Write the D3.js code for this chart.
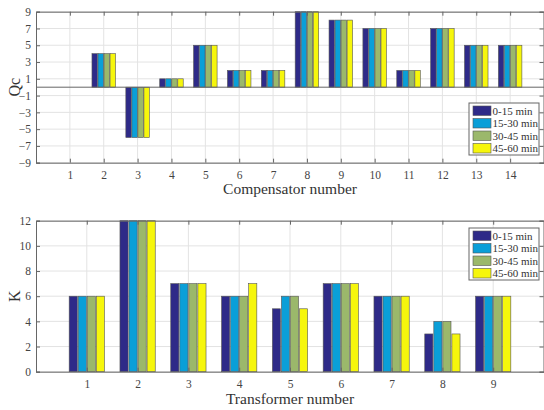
<!DOCTYPE html>
<html>
<head>
<meta charset="utf-8">
<script src="https://cdn.jsdelivr.net/npm/d3@7"></script>
<style>
  body { margin: 0; background: #fff; }
  svg { display: block; font-family: "Liberation Serif", "DejaVu Serif", serif; }
  .grid line { stroke: #e3e3e3; stroke-width: 1; }
  .axis text { fill: #444; font-size: 11.5px; font-family: "Liberation Serif", "DejaVu Serif", serif; }
  .axis path, .axis line { stroke: #666; }
</style>
</head>
<body>
<svg id="chart" width="544" height="410"></svg>
<script>
const seriesNames = ["0-15 min", "15-30 min", "30-45 min", "45-60 min"];
const seriesColors = ["#2e2a88", "#0a9fd8", "#9bb86b", "#f6f60c"];

const compensators = [1, 2, 3, 4, 5, 6, 7, 8, 9, 10, 11, 12, 13, 14];
const qcValues = [
    [0, 4, -6, 1, 5, 2, 2, 9, 8, 7, 2, 7, 5, 5],
    [0, 4, -6, 1, 5, 2, 2, 9, 8, 7, 2, 7, 5, 5],
    [0, 4, -6, 1, 5, 2, 2, 9, 8, 7, 2, 7, 5, 5],
    [0, 4, -6, 1, 5, 2, 2, 9, 8, 7, 2, 7, 5, 5]
];
const qcTicks = [-9, -7, -5, -3, -1, 1, 3, 5, 7, 9];

const transformers = [1, 2, 3, 4, 5, 6, 7, 8, 9];
const kValues = [
    [6, 12, 7, 6, 5, 7, 6, 3, 6],
    [6, 12, 7, 6, 6, 7, 6, 4, 6],
    [6, 12, 7, 6, 6, 7, 6, 4, 6],
    [6, 12, 7, 7, 5, 7, 6, 3, 6]
];
const kTicks = [0, 2, 4, 6, 8, 10, 12];

const svg = d3.select("#chart");

function drawPanel({ top, bottom, cats, values, yDomain, yTicks, yLabel, xLabel, xLabelY, legendTop }) {
    const left = 36, right = 544;
    const x = d3.scaleLinear().domain([0, cats.length + 1]).range([left, right]);
    const y = d3.scaleLinear().domain(yDomain).range([bottom, top]);
    const g = svg.append("g");

    // grid
    const grid = g.append("g").attr("class", "grid");
    grid.selectAll(".gx").data(cats).join("line")
        .attr("x1", d => x(d)).attr("x2", d => x(d))
        .attr("y1", top).attr("y2", bottom);
    grid.selectAll(".gy").data(yTicks).join("line")
        .attr("x1", left).attr("x2", right)
        .attr("y1", d => y(d)).attr("y2", d => y(d));

    // bars
    const step = x(1) - x(0);
    const slot = step * 0.178;
    const barW = slot * 0.9;
    const base = y(Math.max(0, yDomain[0]));
    values.forEach((vals, s) => {
        g.append("g").selectAll("rect").data(vals.map((v, i) => ({ v, c: cats[i] })))
            .join("rect")
            .filter(d => d.v !== 0)
            .attr("x", d => x(d.c) + (s - 2) * slot + (slot - barW) / 2)
            .attr("width", barW)
            .attr("y", d => Math.min(y(d.v), base))
            .attr("height", d => Math.abs(y(d.v) - base))
            .attr("fill", seriesColors[s])
            .attr("stroke", "#555")
            .attr("stroke-width", 0.6);
    });

    // zero line
    if (yDomain[0] < 0) {
        g.append("line").attr("x1", left).attr("x2", right)
            .attr("y1", y(0)).attr("y2", y(0))
            .attr("stroke", "#666").attr("stroke-width", 1);
    }

    // axes
    g.append("g").attr("class", "axis")
        .attr("transform", `translate(0,${bottom})`)
        .call(d3.axisBottom(x).tickValues(cats).tickSize(-4).tickPadding(8).tickFormat(d3.format("d")));
    g.append("g").attr("class", "axis")
        .attr("transform", `translate(0,${top})`)
        .call(d3.axisTop(x).tickValues(cats).tickSize(-4).tickFormat(""));
    g.append("g").attr("class", "axis")
        .attr("transform", `translate(${left},0)`)
        .call(d3.axisLeft(y).tickValues(yTicks).tickSize(-4).tickPadding(5));
    g.append("g").attr("class", "axis")
        .attr("transform", `translate(${right - 0.5},0)`)
        .call(d3.axisRight(y).tickValues(yTicks).tickSize(-4).tickFormat(""));
    g.selectAll(".axis").attr("font-family", null);

    // labels
    g.append("text")
        .attr("transform", `translate(20,${(top + bottom) / 2}) rotate(-90)`)
        .attr("text-anchor", "middle")
        .attr("font-size", 16).attr("fill", "#333")
        .text(yLabel);
    g.append("text")
        .attr("x", 290).attr("y", xLabelY)
        .attr("text-anchor", "middle")
        .attr("font-size", 15.5).attr("fill", "#333")
        .text(xLabel);

    // legend
    const lg = g.append("g").attr("transform", `translate(469,${legendTop})`);
    lg.append("rect").attr("width", 70).attr("height", 52)
        .attr("fill", "#fff").attr("stroke", "#666").attr("stroke-width", 1);
    seriesNames.forEach((name, i) => {
        lg.append("rect")
            .attr("x", 4).attr("y", 3 + i * 12.5)
            .attr("width", 18).attr("height", 9.5)
            .attr("fill", seriesColors[i]).attr("stroke", "#555").attr("stroke-width", 0.6);
        lg.append("text")
            .attr("x", 23.5).attr("y", 11.5 + i * 12.5)
            .attr("font-size", 11).attr("fill", "#333")
            .text(name);
    });
}

drawPanel({
    top: 11.7, bottom: 162.7, cats: compensators, values: qcValues,
    yDomain: [-9, 9], yTicks: qcTicks, yLabel: "Qc",
    xLabel: "Compensator number", xLabelY: 194, legendTop: 103
});

drawPanel({
    top: 220.7, bottom: 371.7, cats: transformers, values: kValues,
    yDomain: [0, 12], yTicks: kTicks, yLabel: "K",
    xLabel: "Transformer number", xLabelY: 404, legendTop: 228
});
</script>
</body>
</html>
